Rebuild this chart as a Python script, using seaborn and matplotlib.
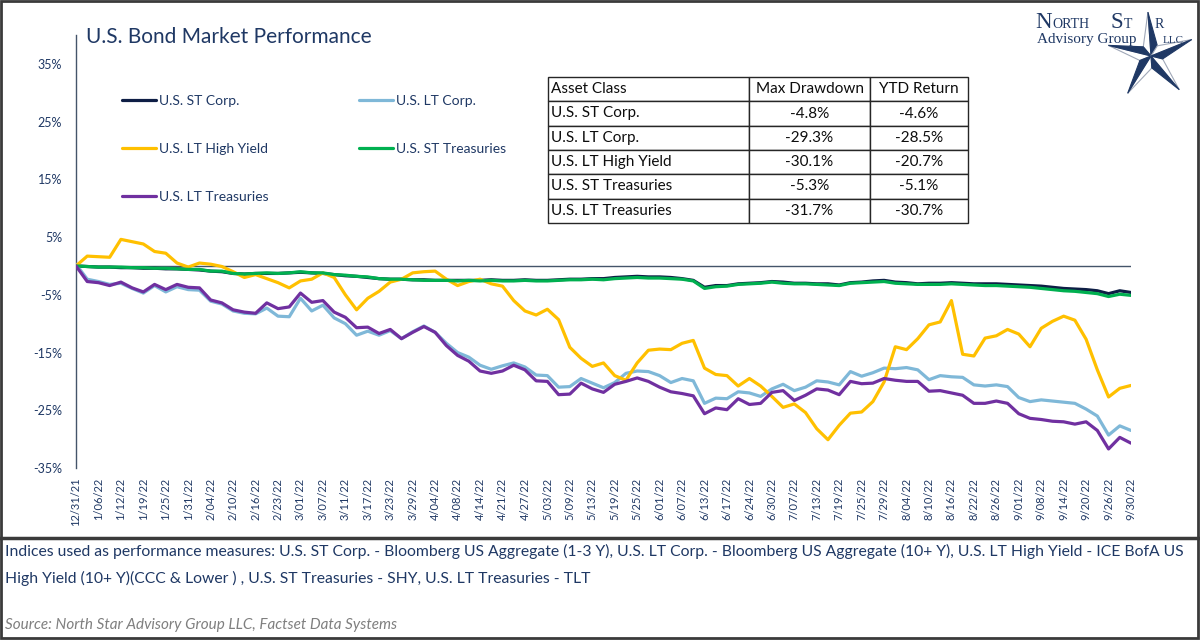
import numpy as np
import pandas as pd
import matplotlib.pyplot as plt
import seaborn as sns
from matplotlib.lines import Line2D
from matplotlib.patches import Polygon, Rectangle

sns.set_style('white')
plt.rcParams['font.family'] = ['Lato', 'DejaVu Sans']

NAVY = '#1F3864'

# trading-day labels, one every 4th session
TICK_LABELS = ['12/31/21', '1/06/22', '1/12/22', '1/19/22', '1/25/22', '1/31/22', '2/04/22', '2/10/22',
               '2/16/22', '2/23/22', '3/01/22', '3/07/22', '3/11/22', '3/17/22', '3/23/22', '3/29/22',
               '4/04/22', '4/08/22', '4/14/22', '4/21/22', '4/27/22', '5/03/22', '5/09/22', '5/13/22',
               '5/19/22', '5/25/22', '6/01/22', '6/07/22', '6/13/22', '6/17/22', '6/24/22', '6/30/22',
               '7/07/22', '7/13/22', '7/19/22', '7/25/22', '7/29/22', '8/04/22', '8/10/22', '8/16/22',
               '8/22/22', '8/26/22', '9/01/22', '9/08/22', '9/14/22', '9/20/22', '9/26/22', '9/30/22']

# cumulative return (%), read every 2nd trading day
st_corp = [0.0, -0.1, -0.2, -0.2, -0.3, -0.3, -0.4, -0.4, -0.5, -0.5,
           -0.6, -0.7, -0.9, -1.0, -1.3, -1.4, -1.3, -1.3, -1.3, -1.2,
           -1.1, -1.2, -1.3, -1.5, -1.7, -1.8, -2.0, -2.2, -2.3, -2.3,
           -2.4, -2.4, -2.5, -2.5, -2.5, -2.5, -2.5, -2.4, -2.5, -2.5,
           -2.4, -2.5, -2.5, -2.4, -2.3, -2.3, -2.2, -2.2, -2.0, -1.9,
           -1.8, -1.9, -1.9, -2.0, -2.2, -2.5, -3.7, -3.4, -3.4, -3.1,
           -3.0, -2.9, -2.7, -2.8, -3.0, -3.0, -3.1, -3.1, -3.3, -2.9,
           -2.8, -2.6, -2.5, -2.8, -2.9, -3.1, -3.0, -3.0, -2.9, -3.0,
           -3.1, -3.1, -3.1, -3.2, -3.3, -3.4, -3.5, -3.7, -3.9, -4.0,
           -4.1, -4.3, -4.8, -4.3, -4.6]
lt_corp = [0.3, -2.3, -2.7, -3.2, -3.0, -3.9, -4.7, -3.4, -4.5, -3.6,
           -4.1, -4.2, -6.1, -6.6, -7.8, -8.2, -8.3, -7.3, -8.7, -8.8,
           -5.6, -7.8, -6.8, -9.0, -10.0, -12.0, -11.3, -12.0, -11.2, -12.6,
           -11.4, -10.4, -11.5, -13.4, -15.0, -15.8, -17.2, -17.9, -17.3, -16.8,
           -17.5, -18.9, -19.0, -21.0, -20.9, -19.5, -20.3, -21.1, -20.2, -18.6,
           -18.2, -18.3, -19.0, -20.2, -19.5, -19.9, -23.8, -22.9, -23.0, -21.8,
           -22.0, -22.6, -21.3, -20.5, -21.6, -21.0, -19.9, -20.1, -20.6, -18.3,
           -19.1, -18.5, -17.7, -17.8, -17.6, -18.0, -19.7, -19.0, -19.2, -19.3,
           -20.6, -20.8, -20.6, -20.9, -22.8, -23.5, -23.2, -23.4, -23.6, -23.8,
           -24.8, -26.0, -29.3, -27.7, -28.5]
lt_hy = [0.0, 1.7, 1.6, 1.5, 4.6, 4.2, 3.8, 2.5, 2.2, 0.5,
         -0.2, 0.5, 0.3, -0.1, -1.0, -2.0, -1.5, -2.2, -2.9, -3.8,
         -2.6, -2.3, -1.2, -2.0, -5.0, -7.6, -5.6, -4.4, -2.8, -2.3,
         -1.2, -1.0, -0.9, -2.3, -3.4, -2.7, -2.3, -3.1, -3.5, -6.0,
         -7.8, -8.5, -7.5, -9.3, -14.1, -16.0, -17.4, -16.8, -19.0, -19.8,
         -16.8, -14.6, -14.4, -14.5, -13.4, -12.9, -17.7, -18.8, -19.0, -20.8,
         -19.5, -20.8, -22.6, -24.5, -23.9, -25.4, -28.2, -30.1, -27.6, -25.5,
         -25.3, -23.5, -20.1, -14.0, -14.5, -12.6, -10.2, -9.7, -6.0, -15.3,
         -15.6, -12.5, -12.1, -11.0, -11.8, -14.0, -10.8, -9.6, -8.7, -9.4,
         -12.7, -18.0, -22.7, -21.2, -20.7]
st_treas = [0.0, -0.1, -0.2, -0.2, -0.2, -0.3, -0.3, -0.4, -0.4, -0.5,
            -0.6, -0.6, -0.9, -0.9, -1.3, -1.4, -1.3, -1.2, -1.3, -1.2,
            -1.0, -1.2, -1.2, -1.5, -1.6, -1.8, -1.9, -2.2, -2.3, -2.3,
            -2.4, -2.5, -2.5, -2.5, -2.6, -2.5, -2.6, -2.5, -2.6, -2.6,
            -2.5, -2.6, -2.6, -2.5, -2.4, -2.4, -2.3, -2.4, -2.2, -2.1,
            -2.0, -2.1, -2.1, -2.2, -2.3, -2.6, -3.9, -3.6, -3.5, -3.2,
            -3.1, -3.0, -2.8, -3.0, -3.1, -3.1, -3.2, -3.3, -3.4, -3.0,
            -2.9, -2.8, -2.7, -3.0, -3.1, -3.2, -3.2, -3.2, -3.1, -3.2,
            -3.3, -3.4, -3.4, -3.5, -3.6, -3.7, -3.9, -4.1, -4.3, -4.4,
            -4.6, -4.8, -5.3, -4.9, -5.1]
lt_treas = [0.0, -2.7, -2.9, -3.4, -2.8, -3.8, -4.5, -3.2, -4.1, -3.2,
            -3.7, -3.8, -5.9, -6.4, -7.6, -8.0, -8.2, -6.4, -7.4, -7.1,
            -4.7, -6.3, -6.0, -8.0, -8.9, -10.7, -10.6, -11.7, -11.0, -12.6,
            -11.5, -10.5, -11.5, -13.8, -15.5, -16.5, -18.2, -18.6, -18.2, -17.2,
            -18.0, -19.9, -20.0, -22.3, -22.2, -20.3, -21.3, -21.9, -20.5, -20.0,
            -19.4, -20.0, -21.0, -21.8, -22.1, -22.5, -25.6, -24.6, -24.9, -23.0,
            -24.0, -23.8, -21.9, -21.6, -23.3, -22.4, -21.3, -21.5, -22.3, -20.0,
            -20.4, -20.3, -19.5, -19.8, -20.0, -20.0, -21.7, -21.6, -22.0, -22.4,
            -23.8, -23.8, -23.4, -23.8, -25.6, -26.4, -26.6, -26.9, -27.0, -27.4,
            -27.0, -28.5, -31.7, -29.7, -30.7]

SERIES = ['U.S. ST Corp.', 'U.S. LT Corp.', 'U.S. LT High Yield', 'U.S. ST Treasuries', 'U.S. LT Treasuries']
COLORS = ['#0E1E45', '#7FB8D8', '#FFC000', '#00B050', '#7030A0']

TABLE_HEADER = ['Asset Class', 'Max Drawdown', 'YTD Return']
max_drawdown = ['-4.8%', '-29.3%', '-30.1%', '-5.3%', '-31.7%']
ytd_return = ['-4.6%', '-28.5%', '-20.7%', '-5.1%', '-30.7%']

FOOT_1 = ('Indices used as performance measures: U.S. ST Corp. - Bloomberg US Aggregate (1-3 Y), '
          'U.S. LT Corp. - Bloomberg US Aggregate (10+ Y), U.S. LT High Yield - ICE BofA US')
FOOT_2 = 'High Yield (10+ Y)(CCC & Lower ) , U.S. ST Treasuries - SHY, U.S. LT Treasuries - TLT'
SOURCE = 'Source: North Star Advisory Group LLC, Factset Data Systems'

values = [st_corp, lt_corp, lt_hy, st_treas, lt_treas]
days = np.arange(len(st_corp)) * 2
frames = []
for name, vals in zip(SERIES, values):
    assert len(vals) == len(days)
    frames.append(pd.DataFrame({'day': days, 'ret': vals, 'series': name}))
df = pd.concat(frames, ignore_index=True)

fig = plt.figure(figsize=(12, 6.4), dpi=100)
ax = fig.add_axes([76 / 1200, 1 - 468 / 640, 1055 / 1200, 433 / 640])

ax.axhline(0, color='#44546A', lw=1, zorder=1)
sns.lineplot(data=df, x='day', y='ret', hue='series', hue_order=SERIES, palette=COLORS,
             estimator=None, sort=False, lw=2.3, legend=False, ax=ax, zorder=3)

ax.set_xlim(0, 188)
ax.set_ylim(-35, 40)
yt = np.arange(-35, 36, 10)
ax.set_yticks(yt)
ax.set_yticklabels([f'{v}%' for v in yt])
ax.set_xticks(np.arange(0, 189, 4))
ax.set_xticklabels(TICK_LABELS, rotation=90)
ax.tick_params(axis='y', length=0, pad=10, labelsize=9, labelcolor=NAVY)
ax.tick_params(axis='x', length=0, pad=7, labelsize=8, labelcolor=NAVY)
ax.set_xlabel('')
ax.set_ylabel('')
for s in ['top', 'right', 'bottom']:
    ax.spines[s].set_visible(False)
ax.spines['left'].set_color('#44546A')
ax.spines['left'].set_linewidth(1)
ax.grid(False)

# overlay in pixel units for frame, titles and logo
ov = fig.add_axes([0, 0, 1, 1], zorder=5)
ov.set_xlim(0, 1200)
ov.set_ylim(640, 0)
ov.axis('off')
ov.patch.set_alpha(0)

# legend, filled row by row
handles = {n: Line2D([], [], color=c, lw=2.3) for n, c in zip(SERIES, COLORS)}
order = [SERIES[0], SERIES[2], SERIES[4], SERIES[1], SERIES[3]]
ax.legend([handles[n] for n in order], order, loc='upper left', bbox_to_anchor=(115, 88),
          bbox_transform=ov.transData, ncol=2, frameon=False, fontsize=10, labelcolor=NAVY,
          handlelength=2.45, handletextpad=0.2, labelspacing=2.6, columnspacing=6.55, borderpad=0)

# stats table
tax = fig.add_axes([548 / 1200, 1 - 223 / 640, 420 / 1200, 146 / 640])
tax.axis('off')
rows = [[n, m, y] for n, m, y in zip(SERIES, max_drawdown, ytd_return)]
tbl = tax.table(cellText=rows, colLabels=TABLE_HEADER, cellLoc='center', colLoc='center',
                colWidths=[201 / 420, 121 / 420, 98 / 420], bbox=[0, 0, 1, 1])
tbl.auto_set_font_size(False)
tbl.set_fontsize(11)
for (r, c), cell in tbl.get_celld().items():
    cell.set_edgecolor('#262626')
    cell.set_linewidth(1)
    cell.get_text().set_color('#0D0D0D')
    if c == 0:
        cell.get_text().set_ha('left')
        cell.PAD = 0.015

ov.text(86, 37, 'U.S. Bond Market Performance', fontsize=15, color=NAVY, va='center')

ov.text(5, 551, FOOT_1, fontsize=11.3, color=NAVY, va='center')
ov.text(5, 578, FOOT_2, fontsize=11.3, color=NAVY, va='center')
ov.text(5, 625, SOURCE, fontsize=11, color='#7F7F7F', va='center', style='italic')

# frame
ov.add_patch(Rectangle((1, 1), 1197, 637, fill=False, lw=2, ec='#3A3A3A'))
ov.plot([0, 1200], [538, 538], color='#3A3A3A', lw=2.5)

# logo
serif = ['Liberation Serif', 'DejaVu Serif']
ov.text(1035, 28, 'N', fontsize=16.5, family=serif, color=NAVY, va='baseline')
ov.text(1052, 28, 'ORTH', fontsize=10, family=serif, color=NAVY, va='baseline')
ov.text(1111, 28, 'S', fontsize=16.5, family=serif, color=NAVY, va='baseline')
ov.text(1124, 28, 'T', fontsize=10, family=serif, color=NAVY, va='baseline')
ov.text(1155, 28, 'R', fontsize=10, family=serif, color=NAVY, va='baseline')
ov.text(1037, 43, 'Advisory Group', fontsize=11, family=serif, color=NAVY, va='baseline')
ov.text(1163, 43, 'LLC', fontsize=8, family=serif, color=NAVY, va='baseline')
cx, cy, R, r = 1151, 56, 44, 12
for i in range(5):
    a = np.deg2rad(94 + 72 * i)
    tip = (cx + R * np.cos(a), cy - R * np.sin(a))
    left = (cx + r * np.cos(a + np.deg2rad(36)), cy - r * np.sin(a + np.deg2rad(36)))
    right = (cx + r * np.cos(a - np.deg2rad(36)), cy - r * np.sin(a - np.deg2rad(36)))
    ov.add_patch(Polygon([(cx, cy), tip, left], closed=True, fc='white', ec='#A0A8B8', lw=0.8))
    ov.add_patch(Polygon([(cx, cy), tip, right], closed=True, fc=NAVY, ec=NAVY, lw=0.8))

fig.savefig('out.png', dpi=100)
